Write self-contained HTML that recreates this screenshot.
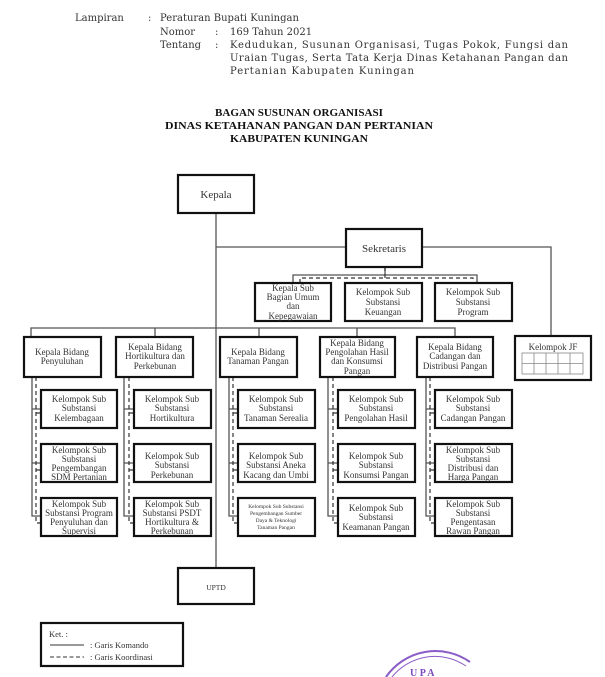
<!DOCTYPE html>
<html><head><meta charset="utf-8"><style>
body{margin:0;background:#fff;}
svg{display:block;}
text{font-family:"Liberation Serif",serif;fill:#333;}
.h text{font-family:"DejaVu Serif",serif;}
</style></head><body>
<svg width="605" height="677" viewBox="0 0 605 677" xmlns="http://www.w3.org/2000/svg">
<g font-size="10" class="h">
<text x="75" y="21">Lampiran</text><text x="148" y="21">:</text><text x="160" y="21">Peraturan Bupati Kuningan</text>
<text x="160" y="35">Nomor</text><text x="215" y="35">:</text><text x="230" y="35">169 Tahun 2021</text>
<text x="160" y="48">Tentang</text><text x="215" y="48">:</text>
<text x="230" y="48" textLength="338" lengthAdjust="spacing">Kedudukan, Susunan Organisasi, Tugas Pokok, Fungsi dan</text>
<text x="230" y="61" textLength="338" lengthAdjust="spacing">Uraian Tugas, Serta Tata Kerja Dinas Ketahanan Pangan dan</text>
<text x="230" y="74" textLength="184" lengthAdjust="spacing">Pertanian Kabupaten Kuningan</text>
</g>
<g font-size="11" font-weight="bold" text-anchor="middle">
<text x="299" y="116" style="fill:#111" textLength="168" lengthAdjust="spacingAndGlyphs">BAGAN SUSUNAN ORGANISASI</text>
<text x="299" y="129" style="fill:#111" textLength="268" lengthAdjust="spacingAndGlyphs">DINAS KETAHANAN PANGAN DAN PERTANIAN</text>
<text x="299" y="142" style="fill:#111" textLength="138" lengthAdjust="spacingAndGlyphs">KABUPATEN KUNINGAN</text>
</g>
<g stroke="#555" stroke-width="1.3" fill="none">
<path d="M216 213V568"/>
<path d="M216 247H346M422 247H551V336"/>
<path d="M385 267V275M293 283V275H477V283"/>
<path d="M31 337V328H455V337M155 328V337M259 328V337M357 328V337"/>
<path d="M32 377V516H41M32 409H41M32 463H41"/>
<path d="M124 377V516H134M124 409H134M124 463H134"/>
<path d="M229 377V516H238M229 409H238M229 463H238"/>
<path d="M328 377V516H338M328 409H338M328 463H338"/>
<path d="M426 377V516H435M426 409H435M426 463H435"/>
</g>
<g stroke="#333" stroke-width="1.2" fill="none" stroke-dasharray="4,3">
<path d="M385 267V278M300 283V278H473V283"/>
<path d="M36 377V523H41M36 413H41M36 470H41"/>
<path d="M129 377V523H134M129 413H134M129 470H134"/>
<path d="M233 377V523H238M233 413H238M233 470H238"/>
<path d="M333 377V523H338M333 413H338M333 470H338"/>
<path d="M430 377V523H435M430 413H435M430 470H435"/>
</g>
<g stroke="#111" stroke-width="2.2" fill="#fff">
<rect x="178" y="175" width="76" height="38"/>
<rect x="346" y="229" width="76" height="38"/>
<rect x="255" y="283" width="76" height="38"/>
<rect x="345" y="283" width="77" height="38"/>
<rect x="435" y="283" width="77" height="38"/>
<rect x="24" y="337" width="77" height="40"/>
<rect x="116" y="337" width="77" height="40"/>
<rect x="220" y="337" width="77" height="40"/>
<rect x="320" y="337" width="75" height="40"/>
<rect x="417" y="337" width="76" height="40"/>
<rect x="515" y="336" width="76" height="44"/>
<rect x="41" y="390" width="76" height="38"/><rect x="134" y="390" width="77" height="38"/><rect x="238" y="390" width="77" height="38"/><rect x="338" y="390" width="77" height="38"/><rect x="435" y="390" width="77" height="38"/>
<rect x="41" y="444" width="76" height="38"/><rect x="134" y="444" width="77" height="38"/><rect x="238" y="444" width="77" height="38"/><rect x="338" y="444" width="77" height="38"/><rect x="435" y="444" width="77" height="38"/>
<rect x="41" y="498" width="76" height="38"/><rect x="134" y="498" width="77" height="38"/><rect x="238" y="498" width="77" height="38"/><rect x="338" y="498" width="77" height="38"/><rect x="435" y="498" width="77" height="38"/>
<rect x="178" y="568" width="76" height="36"/>
<rect x="41" y="623" width="142" height="43"/>
</g>
<g stroke="#888" stroke-width="0.8" fill="none">
<rect x="522" y="353" width="61" height="21"/>
<path d="M522 363.5H583M534 353V374M546 353V374M558 353V374M570 353V374"/>
</g>
<g font-size="9" text-anchor="middle">
<text x="216" y="198" font-size="11">Kepala</text>
<text x="384" y="252" font-size="11">Sekretaris</text>
<text x="293" y="291">Kepala Sub</text><text x="293" y="300">Bagian Umum</text><text x="293" y="309">dan</text><text x="293" y="319">Kepegawaian</text>
<text x="383" y="295">Kelompok Sub</text><text x="383" y="305">Substansi</text><text x="383" y="315">Keuangan</text>
<text x="473" y="295">Kelompok Sub</text><text x="473" y="305">Substansi</text><text x="473" y="315">Program</text>
<text x="62" y="355">Kepala Bidang</text><text x="62" y="364">Penyuluhan</text>
<text x="155" y="350">Kepala Bidang</text><text x="155" y="359">Hortikultura dan</text><text x="155" y="369">Perkebunan</text>
<text x="258" y="355">Kepala Bidang</text><text x="258" y="364">Tanaman Pangan</text>
<text x="357" y="346">Kepala Bidang</text><text x="357" y="355">Pengolahan Hasil</text><text x="357" y="364">dan Konsumsi</text><text x="357" y="374">Pangan</text>
<text x="455" y="350">Kepala Bidang</text><text x="455" y="359">Cadangan dan</text><text x="455" y="369">Distribusi Pangan</text>
<text x="553" y="350">Kelompok JF</text>
<text x="79" y="402">Kelompok Sub</text><text x="79" y="411">Substansi</text><text x="79" y="421">Kelembagaan</text>
<text x="172" y="402">Kelompok Sub</text><text x="172" y="411">Substansi</text><text x="172" y="421">Hortikultura</text>
<text x="276" y="402">Kelompok Sub</text><text x="276" y="411">Substansi</text><text x="276" y="421">Tanaman Serealia</text>
<text x="376" y="402">Kelompok Sub</text><text x="376" y="411">Substansi</text><text x="376" y="421">Pengolahan Hasil</text>
<text x="473" y="402">Kelompok Sub</text><text x="473" y="411">Substansi</text><text x="473" y="421">Cadangan Pangan</text>
<text x="79" y="453">Kelompok Sub</text><text x="79" y="462">Substansi</text><text x="79" y="471">Pengembangan</text><text x="79" y="480">SDM Pertanian</text>
<text x="172" y="459">Kelompok Sub</text><text x="172" y="468">Substansi</text><text x="172" y="478">Perkebunan</text>
<text x="276" y="459">Kelompok Sub</text><text x="276" y="468">Substansi Aneka</text><text x="276" y="478">Kacang dan Umbi</text>
<text x="376" y="459">Kelompok Sub</text><text x="376" y="468">Substansi</text><text x="376" y="478">Konsumsi Pangan</text>
<text x="473" y="453">Kelompok Sub</text><text x="473" y="462">Substansi</text><text x="473" y="471">Distribusi dan</text><text x="473" y="480">Harga Pangan</text>
<text x="79" y="507">Kelompok Sub</text><text x="79" y="516">Substansi Program</text><text x="79" y="525">Penyuluhan dan</text><text x="79" y="534">Supervisi</text>
<text x="172" y="507">Kelompok Sub</text><text x="172" y="516">Substansi PSDT</text><text x="172" y="525">Hortikultura &amp;</text><text x="172" y="534">Perkebunan</text>
<g font-size="5.5"><text x="276" y="508">Kelompok Sub Substansi</text><text x="276" y="515">Pengembangan Sumber</text><text x="276" y="522">Daya &amp; Teknologi</text><text x="276" y="529">Tanaman Pangan</text></g>
<text x="376" y="511">Kelompok Sub</text><text x="376" y="520">Substansi</text><text x="376" y="530">Keamanan Pangan</text>
<text x="473" y="507">Kelompok Sub</text><text x="473" y="516">Substansi</text><text x="473" y="525">Pengentasan</text><text x="473" y="534">Rawan Pangan</text>
<text x="216" y="590" font-size="7.5">UPTD</text>
</g>
<g font-size="8.5">
<text x="49" y="637">Ket. :</text>
<text x="90" y="648">: Garis Komando</text>
<text x="90" y="660">: Garis Koordinasi</text>
</g>
<path d="M50 645H84" stroke="#333" stroke-width="1"/>
<path d="M50 657H84" stroke="#333" stroke-width="1" stroke-dasharray="4,2.5"/>
<g fill="none" stroke="#8a5cc8" stroke-width="2">
<path d="M386 677A60 60 0 0 1 470 662"/>
<path d="M392 677A55 55 0 0 1 466 666" stroke-width="1"/>
</g>
<text x="410" y="676" font-size="10" font-weight="bold" style="fill:#7a4cc0">U P A</text>
</svg>
</body></html>
